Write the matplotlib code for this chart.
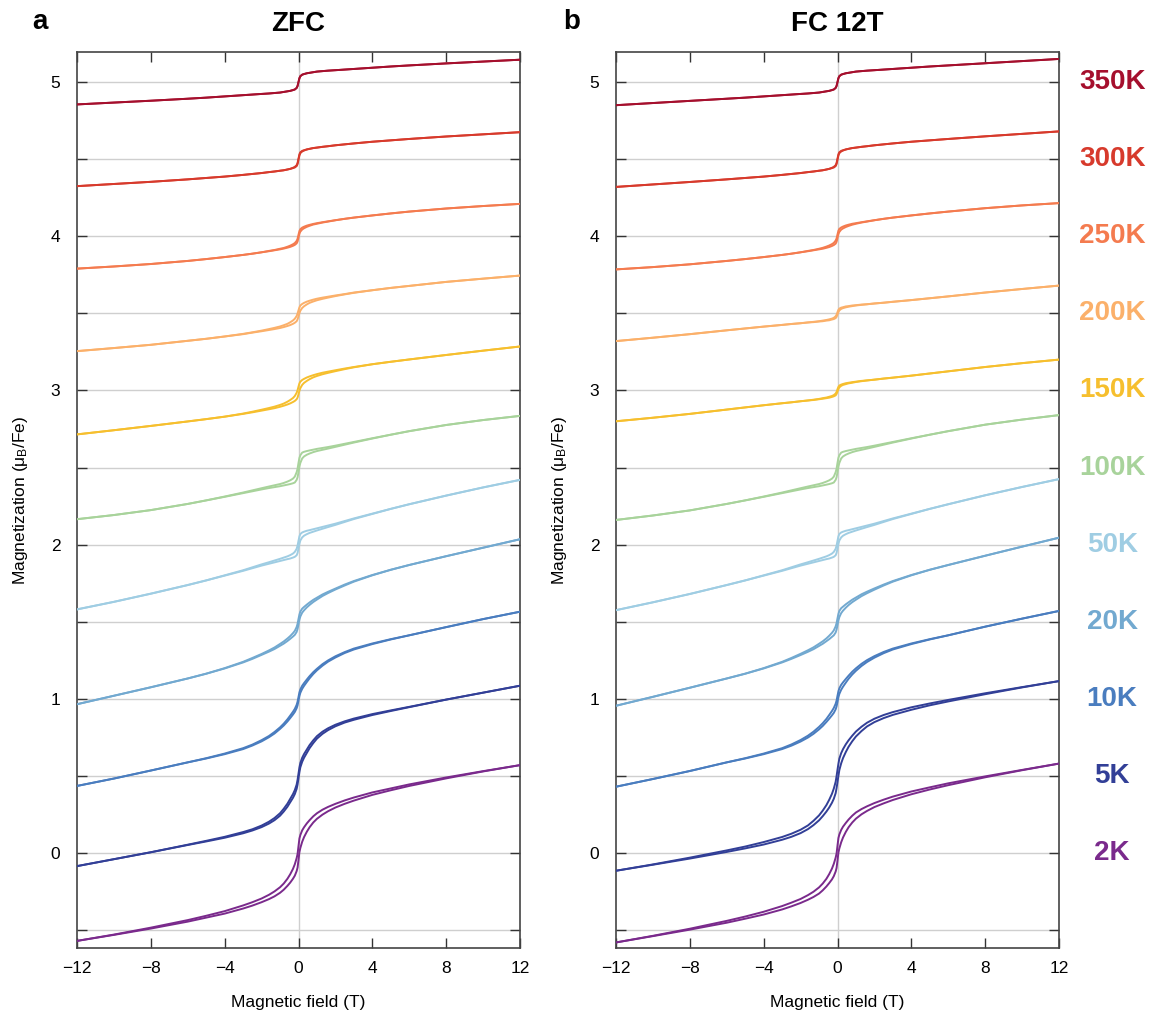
import matplotlib
matplotlib.use('Agg')
import matplotlib.pyplot as plt
import matplotlib.transforms as mtransforms
import numpy as np

plt.rcParams['font.family'] = ['Liberation Sans', 'DejaVu Sans']
plt.rcParams['mathtext.default'] = 'regular'

# temperatures, bottom to top, with the vertical offset used in the plot
temps = ['2K', '5K', '10K', '20K', '50K', '100K', '150K', '200K', '250K', '300K', '350K']
offsets = [0.0, 0.5, 1.0, 1.5, 2.0, 2.5, 3.0, 3.5, 4.0, 4.5, 5.0]
colors = ['#7a2a8c', '#323f97', '#4a7dbf', '#72a9d0', '#9fcde3', '#a8d39b',
          '#f6bf2e', '#fbb06a', '#f47b4f', '#d73a2c', '#a50f2d']

# positive field grid (T); negative side mirrors it
field = [0, 0.05, 0.1, 0.2, 0.3, 0.45, 0.6, 0.8, 1.0, 1.3, 1.6, 2.0, 2.5, 3.0, 4.0, 5.0, 6.0, 8.0, 10.0, 12.0]

# mean magnetization (muB/Fe, offset removed) of the two branches
zfc_mean = [
    [0, .050, .075, .110, .135, .165, .190, .218, .240, .265, .285, .307, .330, .350, .385, .413, .440, .487, .530, .570],
    [0, .040, .070, .105, .130, .160, .190, .222, .250, .280, .303, .327, .350, .368, .398, .423, .447, .495, .540, .585],
    [0, .030, .050, .075, .093, .117, .140, .167, .190, .220, .245, .272, .300, .323, .357, .386, .412, .465, .517, .565],
    [0, .030, .050, .072, .085, .102, .117, .135, .150, .172, .190, .212, .238, .262, .302, .337, .368, .425, .480, .535],
    [0, .030, .048, .063, .071, .079, .085, .092, .099, .109, .119, .132, .150, .168, .200, .232, .262, .318, .371, .420],
    [0, .035, .055, .078, .087, .095, .101, .108, .114, .121, .128, .138, .151, .164, .189, .213, .236, .276, .308, .335],
    [0, .022, .036, .052, .062, .073, .082, .092, .100, .110, .118, .128, .140, .151, .170, .186, .201, .230, .258, .285],
    [0, .020, .034, .048, .057, .067, .075, .083, .090, .098, .105, .114, .124, .134, .150, .165, .178, .204, .225, .245],
    [0, .025, .038, .050, .057, .065, .071, .078, .083, .090, .096, .104, .113, .121, .135, .148, .160, .180, .196, .210],
    [0, .028, .042, .052, .057, .063, .067, .072, .075, .080, .084, .090, .096, .102, .113, .122, .131, .147, .161, .175],
    [0, .025, .038, .048, .052, .057, .060, .064, .068, .071, .074, .077, .081, .085, .093, .101, .108, .121, .133, .145],
]
# half opening of the loop (upper branch minus mean)
zfc_gap = [
    [.045, .044, .042, .037, .032, .027, .023, .020, .018, .016, .014, .012, .011, .010, .008, .006, .005, .003, .001, 0],
    [.015, .015, .014, .013, .012, .011, .010, .009, .008, .007, .006, .005, .004, .004, .003, .002, .001, 0, 0, 0],
    [.012, .012, .011, .010, .009, .008, .007, .006, .005, .005, .004, .004, .003, .003, .002, .001, 0, 0, 0, 0],
    [.018, .017, .016, .013, .011, .009, .008, .007, .006, .005, .004, .003, .003, .002, .001, 0, 0, 0, 0, 0],
    [.025, .024, .021, .016, .013, .011, .009, .008, .007, .006, .005, .004, .003, .002, .001, 0, 0, 0, 0, 0],
    [.030, .028, .025, .019, .015, .012, .010, .008, .007, .006, .005, .004, .003, .002, .001, 0, 0, 0, 0, 0],
    [.025, .024, .021, .016, .013, .011, .009, .007, .006, .005, .004, .003, .002, .001, 0, 0, 0, 0, 0, 0],
    [.020, .019, .017, .013, .011, .009, .007, .006, .005, .004, .003, .002, .001, .001, 0, 0, 0, 0, 0, 0],
    [.010, .009, .008, .006, .005, .004, .003, .002, .002, .001, .001, 0, 0, 0, 0, 0, 0, 0, 0, 0],
    [.004, .004, .003, .002, .001, 0, 0, 0, 0, 0, 0, 0, 0, 0, 0, 0, 0, 0, 0, 0],
    [0, 0, 0, 0, 0, 0, 0, 0, 0, 0, 0, 0, 0, 0, 0, 0, 0, 0, 0, 0],
]

fc_mean = [
    [0, .050, .075, .110, .136, .166, .192, .220, .243, .268, .288, .311, .334, .355, .390, .419, .446, .494, .538, .580],
    [0, .040, .075, .115, .145, .180, .210, .243, .272, .305, .333, .360, .385, .405, .437, .464, .488, .533, .575, .615],
    [0, .030, .050, .075, .093, .117, .140, .167, .190, .220, .245, .272, .300, .323, .357, .386, .412, .468, .520, .570],
    [0, .030, .050, .072, .085, .102, .117, .135, .150, .172, .190, .212, .238, .262, .302, .337, .368, .428, .487, .545],
    [0, .030, .048, .063, .071, .079, .085, .092, .099, .109, .119, .132, .150, .168, .200, .232, .262, .320, .374, .425],
    [0, .035, .055, .078, .087, .095, .101, .108, .114, .121, .128, .138, .151, .164, .189, .213, .236, .278, .311, .340],
    [0, .016, .026, .034, .039, .044, .048, .052, .056, .061, .065, .070, .077, .083, .096, .110, .124, .152, .177, .200],
    [0, .016, .025, .033, .037, .042, .045, .049, .052, .056, .059, .064, .069, .075, .086, .098, .110, .135, .158, .180],
    [0, .025, .038, .050, .057, .065, .071, .078, .083, .090, .096, .104, .113, .121, .135, .148, .160, .182, .200, .215],
    [0, .028, .042, .052, .057, .063, .067, .072, .075, .080, .084, .090, .096, .102, .113, .122, .131, .148, .164, .180],
    [0, .025, .038, .048, .052, .057, .060, .064, .068, .071, .074, .077, .081, .085, .093, .101, .108, .122, .136, .150],
]
fc_gap = [
    [.048, .047, .045, .040, .035, .029, .025, .022, .020, .017, .015, .013, .012, .011, .009, .007, .006, .003, .001, 0],
    [.040, .039, .037, .033, .029, .025, .021, .018, .016, .014, .012, .011, .010, .009, .008, .006, .005, .003, .001, 0],
    [.020, .019, .018, .016, .014, .012, .010, .009, .008, .007, .006, .005, .004, .003, .002, .001, 0, 0, 0, 0],
    [.022, .021, .020, .016, .013, .011, .009, .008, .007, .006, .005, .004, .003, .002, .001, 0, 0, 0, 0, 0],
    [.025, .024, .021, .016, .013, .011, .009, .008, .007, .006, .005, .004, .003, .002, .001, 0, 0, 0, 0, 0],
    [.030, .028, .025, .019, .015, .012, .010, .008, .007, .006, .005, .004, .003, .002, .001, 0, 0, 0, 0, 0],
    [.008, .007, .006, .004, .003, .003, .002, .002, .001, .001, 0, 0, 0, 0, 0, 0, 0, 0, 0, 0],
    [.008, .007, .006, .004, .003, .003, .002, .002, .001, .001, 0, 0, 0, 0, 0, 0, 0, 0, 0, 0],
    [.012, .011, .010, .007, .006, .005, .004, .003, .002, .001, .001, 0, 0, 0, 0, 0, 0, 0, 0, 0],
    [.004, .004, .003, .002, .001, 0, 0, 0, 0, 0, 0, 0, 0, 0, 0, 0, 0, 0, 0, 0],
    [0, 0, 0, 0, 0, 0, 0, 0, 0, 0, 0, 0, 0, 0, 0, 0, 0, 0, 0, 0],
]


def full_loop(mean, gap):
    h = np.array(field)
    m = np.array(mean)
    g = np.array(gap)
    H = np.concatenate([-h[::-1], h[1:]])
    M = np.concatenate([-m[::-1], m[1:]])
    G = np.concatenate([g[::-1], g[1:]])
    return H, M + G, M - G


def draw_panel(ax, means, gaps, title):
    ax.axvline(0, color='#cfcfcf', lw=1.0, zorder=0)
    for off, col, m, g in zip(offsets, colors, means, gaps):
        H, up, lo = full_loop(m, g)
        ax.plot(H, off + up, color=col, lw=1.4, zorder=3)
        ax.plot(H, off + lo, color=col, lw=1.4, zorder=3)

    ax.set_xlim(-12, 12)
    ax.set_ylim(-0.616, 5.195)
    ax.set_xticks(np.arange(-12, 13, 4))
    ax.set_yticks(np.arange(0, 6, 1))
    ax.set_yticks(np.arange(-0.5, 5.1, 0.5), minor=True)
    ax.grid(True, axis='y', which='both', color='#cfcfcf', lw=1.0, zorder=0)
    ax.tick_params(which='both', direction='in', top=True, right=True,
                   length=7, width=1.0, color='#333333', labelsize=12.5)
    ax.tick_params(axis='x', pad=9)
    ax.tick_params(axis='y', pad=12)
    for s in ax.spines.values():
        s.set_color('#444444')
        s.set_linewidth(1.2)
    ax.set_xlabel('Magnetic field (T)', fontsize=12.5)
    ax.set_ylabel(r'Magnetization ($\mu_B$/Fe)', fontsize=12.5)
    ax.xaxis.set_label_coords(0.5, -0.052)
    ax.yaxis.set_label_coords(-0.106, 0.5)
    ax.set_title(title, fontsize=20, fontweight='bold', pad=15)


fig = plt.figure(figsize=(11.59, 10.21), dpi=100)
ax1 = fig.add_axes([77 / 1159, 1 - 948 / 1021, 443 / 1159, 896 / 1021])
ax2 = fig.add_axes([616 / 1159, 1 - 948 / 1021, 443 / 1159, 896 / 1021])

draw_panel(ax1, zfc_mean, zfc_gap, 'ZFC')
draw_panel(ax2, fc_mean, fc_gap, 'FC 12T')

fig.text(40 / 1159, 1 - 22 / 1021, 'a', fontsize=20, fontweight='bold', ha='center', va='center')
fig.text(572 / 1159, 1 - 22 / 1021, 'b', fontsize=20, fontweight='bold', ha='center', va='center')

trans = mtransforms.blended_transform_factory(ax2.transAxes, ax2.transData)
for off, col, t in zip(offsets, colors, temps):
    ax2.text(1.12, off, t, transform=trans, color=col, fontsize=20,
             fontweight='bold', ha='center', va='center')

fig.savefig('out.png', dpi=100)
